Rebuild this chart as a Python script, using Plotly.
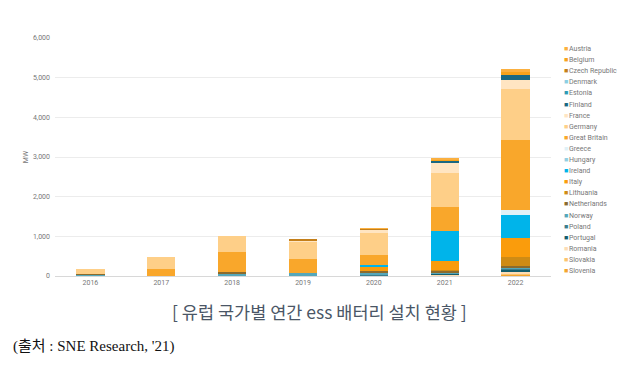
import plotly.graph_objects as go

years = ["2016", "2017", "2018", "2019", "2020", "2021", "2022"]

countries = ["Austria", "Belgium", "Czech Republic", "Denmark", "Estonia", "Finland",
             "France", "Germany", "Great Britain", "Greece", "Hungary", "Ireland",
             "Italy", "Lithuania", "Netherlands", "Norway", "Poland", "Portugal",
             "Romania", "Slovakia", "Slovenia"]

austria = [0, 0, 0, 0, 20, 40, 75]
belgium = [0, 0, 0, 0, 0, 30, 70]
czech = [0, 0, 0, 25, 20, 0, 0]
denmark = [0, 0, 0, 0, 0, 0, 0]
estonia = [0, 0, 0, 0, 0, 0, 0]
finland = [0, 0, 0, 0, 0, 60, 135]
france = [0, 0, 0, 60, 85, 250, 225]
germany = [110, 295, 400, 420, 560, 860, 1280]
great_britain = [0, 170, 520, 360, 235, 615, 1765]
greece = [0, 0, 0, 0, 0, 0, 110]
hungary = [0, 0, 0, 0, 0, 0, 0]
ireland = [0, 0, 0, 0, 70, 755, 600]
italy = [0, 0, 0, 0, 85, 225, 480]
lithuania = [0, 0, 0, 0, 0, 20, 210]
netherlands = [30, 0, 35, 0, 50, 30, 35]
norway = [30, 5, 60, 65, 45, 25, 40]
poland = [0, 0, 0, 0, 20, 20, 30]
portugal = [0, 0, 0, 0, 20, 20, 30]
romania = [0, 0, 0, 0, 0, 15, 50]
slovakia = [0, 0, 0, 0, 0, 10, 40]
slovenia = [0, 0, 0, 0, 0, 10, 35]

series = [austria, belgium, czech, denmark, estonia, finland, france, germany,
          great_britain, greece, hungary, ireland, italy, lithuania, netherlands,
          norway, poland, portugal, romania, slovakia, slovenia]

colors = ["#FBB040", "#F7A21B", "#C47F1A", "#8CCFE3", "#2D9BB5", "#1A6882",
          "#FFE5C2", "#FECF88", "#F9A72B", "#E0F1F7", "#93CFE2", "#00B4EA",
          "#FA9C0C", "#CF8B15", "#8B6B2E", "#55A7BA", "#3B7E8E", "#135E6E",
          "#FDDDB5", "#FCC46E", "#F3A530"]

FONT = "Roboto, Open Sans, sans-serif"

fig = go.Figure()
# first series sits on top of the stack, so add in reverse order
for name, vals, col in reversed(list(zip(countries, series, colors))):
    fig.add_trace(go.Bar(x=years, y=vals, name=name, marker=dict(color=col, line=dict(width=0)),
                         showlegend=False))

L, R, T, B = 55, 66, 38, 92
W, H = 617, 368
pw, ph = W - L - R, H - T - B

def px_x(p):
    return (p - L) / pw

def px_y(p):
    return (H - B - p) / ph

annotations = []
for i, (name, col) in enumerate(zip(countries, colors)):
    py = 49 + i * 11.1
    annotations.append(dict(
        x=px_x(562), y=px_y(py), xref="paper", yref="paper", xanchor="left", yanchor="middle",
        text="■", showarrow=False,
        font=dict(family=FONT, size=7, color=col)))
    annotations.append(dict(
        x=px_x(567), y=px_y(py), xref="paper", yref="paper", xanchor="left", yanchor="middle",
        text=name, showarrow=False,
        font=dict(family=FONT, size=7, color="#777777")))

annotations.append(dict(
    x=px_x(319), y=px_y(311), xref="paper", yref="paper", xanchor="center", yanchor="middle",
    text="[ 유럽 국가별 연간 ess 배터리 설치 현황 ]", showarrow=False,
    font=dict(family="Noto Sans CJK KR", size=17.5, color="#4a5666")))
annotations.append(dict(
    x=px_x(11), y=px_y(346), xref="paper", yref="paper", xanchor="left", yanchor="middle",
    text="(출처 : SNE Research, '21)", showarrow=False,
    font=dict(family="Liberation Serif, Noto Sans CJK KR", size=15, color="#111111")))

fig.update_layout(
    width=W, height=H,
    margin=dict(l=L, r=R, t=T, b=B, pad=0),
    barmode="stack", bargap=0.6,
    paper_bgcolor="white", plot_bgcolor="white",
    font=dict(family=FONT, size=7, color="#777777"),
    annotations=annotations,
    xaxis=dict(showgrid=False, showline=True, linecolor="#d8d8d8", linewidth=1,
               ticks="", tickfont=dict(size=7, color="#777777")),
    yaxis=dict(range=[0, 6000], dtick=1000, tickformat=",", showgrid=True,
               gridcolor="#ececec", gridwidth=1, zeroline=False, showline=False,
               ticks="", ticklabelstandoff=4,
               tickfont=dict(size=7, color="#777777"),
               title=dict(text="MW", font=dict(size=7, color="#777777"), standoff=3)),
)

fig.write_html("out.html", config={"displayModeBar": False},
               post_script="document.body.style.margin='0';")
